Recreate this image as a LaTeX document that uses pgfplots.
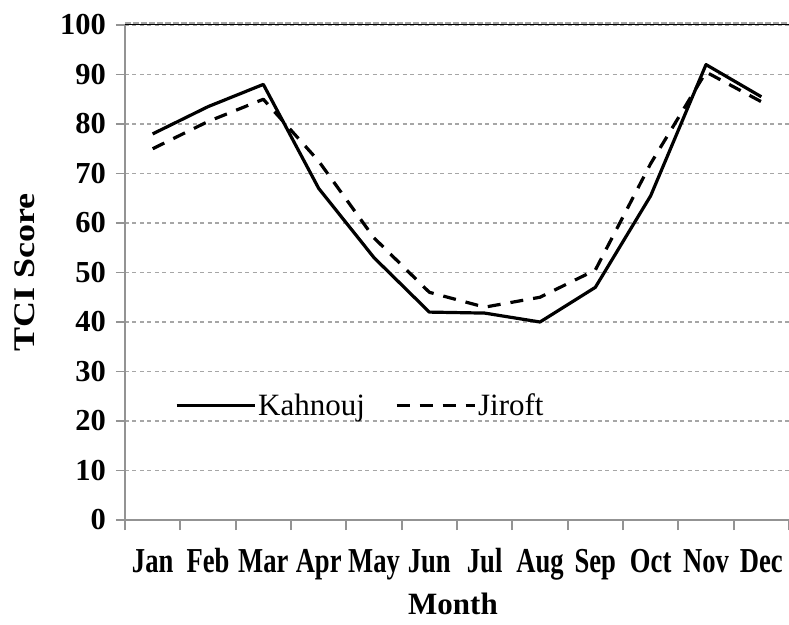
\documentclass[border=0pt]{standalone}
\usepackage{fontspec}
\setmainfont{Liberation Serif}
\newfontfamily\condfont[FakeStretch=0.76]{Liberation Serif}
\newfontfamily\tallfont[FakeStretch=1.2]{Liberation Serif}
\usepackage{pgfplots}
\pgfplotsset{compat=1.18}

\begin{document}
\begin{tikzpicture}
\begin{axis}[
  width=664pt, height=495pt, scale only axis,
  xmin=0, xmax=12, ymin=0, ymax=100,
  axis lines=left,
  axis line style={-, draw=gray!85, line width=1.4pt},
  xtick={0.5,1.5,...,11.5},
  xticklabels={Jan,Feb,Mar,Apr,May,Jun,Jul,Aug,Sep,Oct,Nov,Dec},
  minor xtick={0,1,...,12},
  major x tick style={draw=none},
  minor x tick style={draw=gray!85, line width=1.8pt},
  minor tick length=10pt,
  major tick length=9pt,
  ytick={0,10,...,100},
  y tick style={draw=gray!85, line width=1.4pt},
  tick align=outside,
  ymajorgrids,
  major grid style={draw=gray!70, line width=1.2pt, dash pattern=on 4pt off 3.5pt},
  /pgf/number format/assume math mode=true,
  xticklabel style={font=\condfont\bfseries\fontsize{35}{38}\selectfont, anchor=base, inner sep=0pt, yshift=-43pt},
  yticklabel style={font=\bfseries\fontsize{30.5}{32}\selectfont, anchor=east, inner sep=0pt, xshift=-10pt},
  ylabel={TCI Score},
  ylabel style={font=\tallfont\bfseries\fontsize{30}{32}\selectfont, at={(axis description cs:0,0.5)}, anchor=base, inner sep=0pt, yshift=90pt},
  xlabel={Month},
  xlabel style={font=\bfseries\fontsize{31}{34}\selectfont, at={(axis description cs:0.5,0)}, anchor=base, inner sep=0pt, yshift=-94pt, xshift=-4pt},
  legend style={at={(rel axis cs:0.075,0.232)}, anchor=west, draw=none, fill=none, inner sep=0pt,
    legend columns=2, font=\fontsize{31}{34}\selectfont, nodes={inner sep=2pt},
    /tikz/every even column/.append style={column sep=28pt}},
  legend image code/.code={\draw[#1] (0pt,0pt) -- (78pt,0pt);},
  clip=false,
]
\coordinate (O) at (rel axis cs:0,0);
\draw[gray!70, line width=2.5pt, dash pattern=on 6pt off 2pt] ([yshift=1.5pt]rel axis cs:0,1) -- ([yshift=1.5pt]rel axis cs:1,1);
\draw[black, line width=1pt] (rel axis cs:0,1) -- (rel axis cs:1,1);
\addplot[black, line width=3.2pt, line join=round] coordinates {
  (0.5,78) (1.5,83.5) (2.5,88) (3.5,67) (4.5,53) (5.5,42)
  (6.5,41.8) (7.5,40) (8.5,47) (9.5,65.5) (10.5,92) (11.5,85.5)};
\addlegendentry{Kahnouj}
\addplot[black, line width=3.2pt, line join=round, dash pattern=on 13pt off 10pt] coordinates {
  (0.5,75) (1.5,80.5) (2.5,85) (3.5,72.5) (4.5,57) (5.5,46)
  (6.5,43) (7.5,45) (8.5,50.5) (9.5,72) (10.5,90.5) (11.5,84.5)};
\addlegendentry{Jiroft}
\end{axis}
\pgfresetboundingbox
\path ([shift={(-125pt,-104pt)}]O) rectangle ([shift={(664pt,520pt)}]O);
\end{tikzpicture}
\end{document}
